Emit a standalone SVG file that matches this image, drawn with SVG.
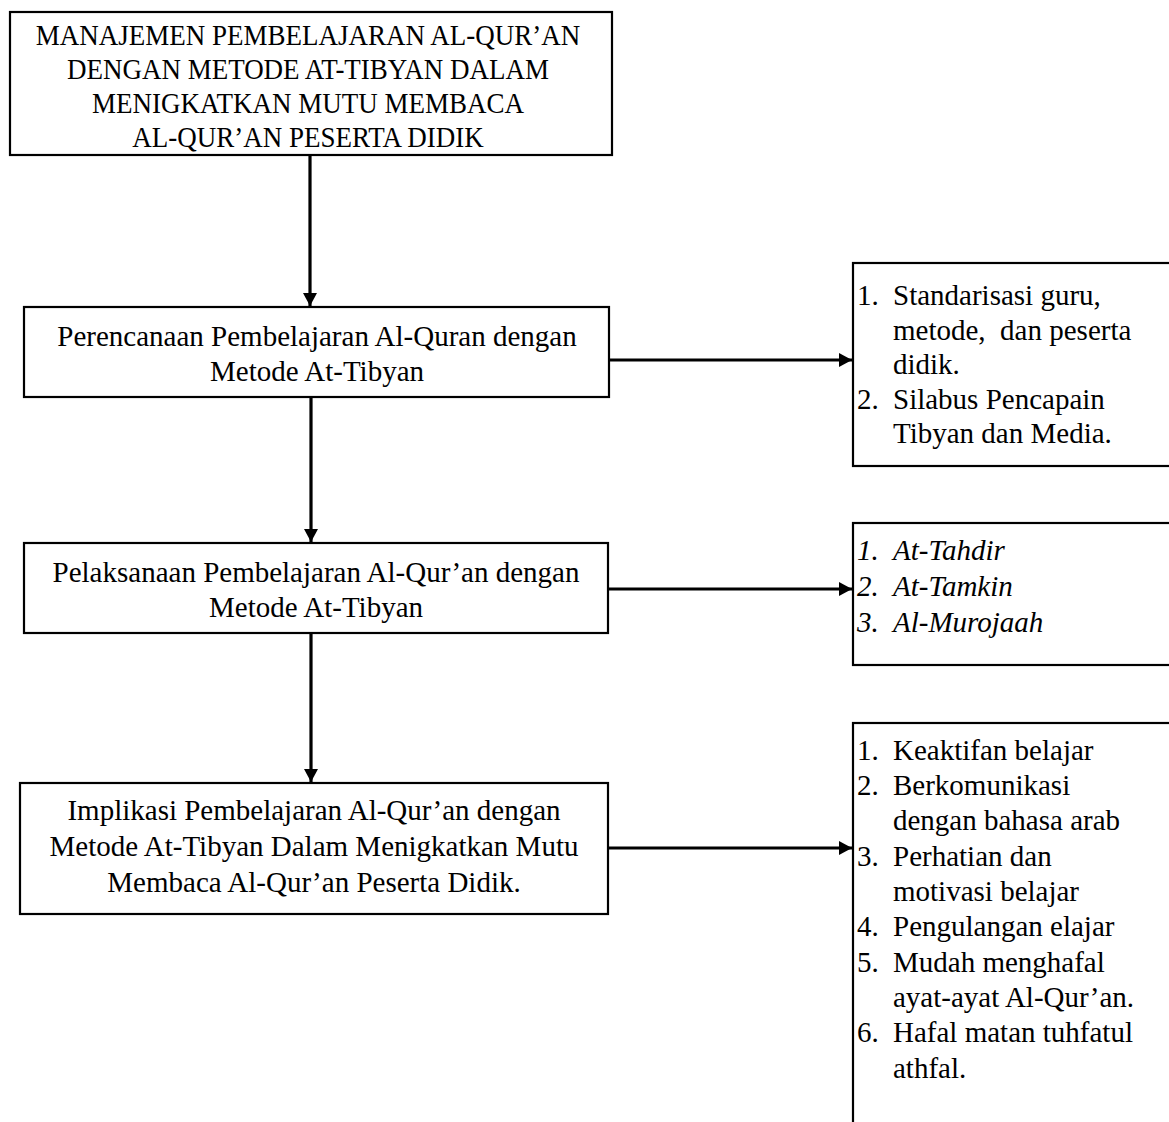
<svg xmlns="http://www.w3.org/2000/svg" width="1169" height="1122" viewBox="0 0 1169 1122">
<style>
.box{fill:#fff;stroke:#000;stroke-width:2.2}
.t{font-family:"Liberation Serif","Times New Roman",serif;font-size:29px;fill:#000}
.c{text-anchor:middle}
.h{font-size:27px}
.i{font-style:italic}
.con{stroke:#000;stroke-width:3.2;fill:none}
</style>
<defs>
<marker id="ah" markerUnits="userSpaceOnUse" markerWidth="14" markerHeight="14" refX="13" refY="7" orient="auto" viewBox="0 0 14 14">
<path d="M0,0 L13,7 L0,14 z" fill="#000"/>
</marker>
</defs>
<g id="connectors">
<line class="con" x1="310" y1="155" x2="310" y2="306" marker-end="url(#ah)"/>
<line class="con" x1="311" y1="397" x2="311" y2="542" marker-end="url(#ah)"/>
<line class="con" x1="311" y1="633" x2="311" y2="782" marker-end="url(#ah)"/>
<line class="con" x1="609" y1="360" x2="852" y2="360" marker-end="url(#ah)"/>
<line class="con" x1="608" y1="589" x2="852" y2="589" marker-end="url(#ah)"/>
<line class="con" x1="608" y1="848" x2="852" y2="848" marker-end="url(#ah)"/>
</g>
<g id="node-title">
<rect class="box" x="10" y="12" width="602" height="143"/>
<text class="t c h" transform="translate(308,45) scale(1,1.1)">MANAJEMEN PEMBELAJARAN AL-QUR’AN</text>
<text class="t c h" transform="translate(308,79) scale(1,1.1)">DENGAN METODE AT-TIBYAN DALAM</text>
<text class="t c h" transform="translate(308,113) scale(1,1.1)">MENIGKATKAN MUTU MEMBACA</text>
<text class="t c h" transform="translate(308,147) scale(1,1.1)">AL-QUR’AN PESERTA DIDIK</text>
</g>
<g id="node-perencanaan">
<rect class="box" x="24" y="307" width="585" height="90"/>
<text class="t c" x="317" y="346">Perencanaan Pembelajaran Al-Quran dengan</text>
<text class="t c" x="317" y="381">Metode At-Tibyan</text>
</g>
<g id="node-pelaksanaan">
<rect class="box" x="24" y="543" width="584" height="90"/>
<text class="t c" x="316" y="582">Pelaksanaan Pembelajaran Al-Qur’an dengan</text>
<text class="t c" x="316" y="617">Metode At-Tibyan</text>
</g>
<g id="node-implikasi">
<rect class="box" x="20" y="783" width="588" height="131"/>
<text class="t c" x="314" y="820">Implikasi Pembelajaran Al-Qur’an dengan</text>
<text class="t c" x="314" y="856">Metode At-Tibyan Dalam Menigkatkan Mutu</text>
<text class="t c" x="314" y="892">Membaca Al-Qur’an Peserta Didik.</text>
</g>
<g id="node-perencanaan-detail">
<rect class="box" x="853" y="263" width="330" height="203"/>
<text class="t" x="857" y="305">1.</text><text class="t" x="893" y="305">Standarisasi guru,</text>
<text class="t" x="893" y="339.5" xml:space="preserve">metode,  dan peserta</text>
<text class="t" x="893" y="374">didik.</text>
<text class="t" x="857" y="408.5">2.</text><text class="t" x="893" y="408.5">Silabus Pencapain</text>
<text class="t" x="893" y="443">Tibyan dan Media.</text>
</g>
<g id="node-pelaksanaan-detail">
<rect class="box" x="853" y="523" width="330" height="142"/>
<text class="t i" x="857" y="560">1.</text><text class="t i" x="893" y="560">At-Tahdir</text>
<text class="t i" x="857" y="596">2.</text><text class="t i" x="893" y="596">At-Tamkin</text>
<text class="t i" x="857" y="632">3.</text><text class="t i" x="893" y="632">Al-Murojaah</text>
</g>
<g id="node-implikasi-detail">
<rect class="box" x="853" y="723" width="330" height="420"/>
<text class="t" x="857" y="760">1.</text><text class="t" x="893" y="760">Keaktifan belajar</text>
<text class="t" x="857" y="795">2.</text><text class="t" x="893" y="795">Berkomunikasi</text>
<text class="t" x="893" y="830">dengan bahasa arab</text>
<text class="t" x="857" y="866">3.</text><text class="t" x="893" y="866">Perhatian dan</text>
<text class="t" x="893" y="901">motivasi belajar</text>
<text class="t" x="857" y="936">4.</text><text class="t" x="893" y="936">Pengulangan elajar</text>
<text class="t" x="857" y="972">5.</text><text class="t" x="893" y="972">Mudah menghafal</text>
<text class="t" x="893" y="1007">ayat-ayat Al-Qur’an.</text>
<text class="t" x="857" y="1042">6.</text><text class="t" x="893" y="1042">Hafal matan tuhfatul</text>
<text class="t" x="893" y="1078">athfal.</text>
</g>
</svg>
